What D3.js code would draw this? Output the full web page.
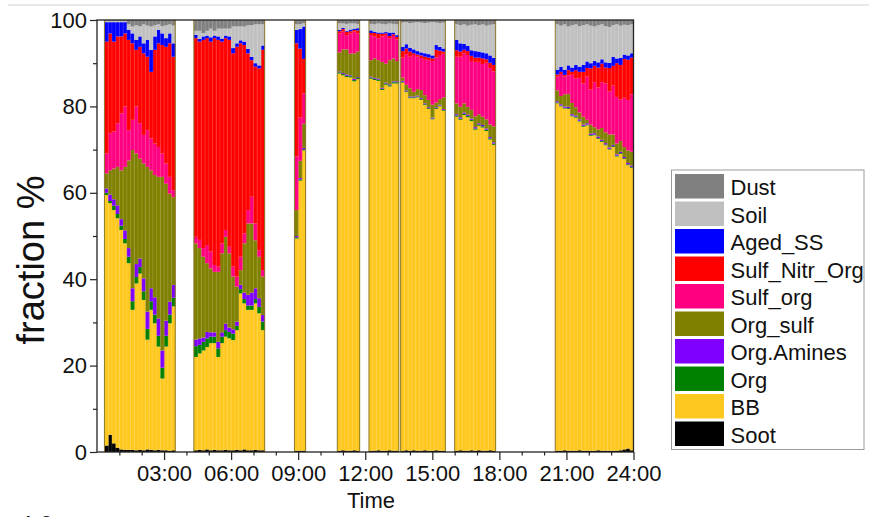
<!DOCTYPE html>
<html>
<head>
<meta charset="utf-8">
<script src="https://cdn.jsdelivr.net/npm/d3@7"></script>
<style>
  body { margin: 0; background: #fff; }
  svg { display: block; font-family: Arial, "Liberation Sans", sans-serif; }
</style>
</head>
<body>
<svg id="chart" width="869" height="517"></svg>
<script>
// Start time of each 10-minute sample (HH:MM)
const times = [
  "00:20","00:30","00:40","00:50","01:00","01:10","01:20","01:30","01:40","01:50","02:00","02:10","02:20","02:30","02:40","02:50","03:00","03:10","03:20",
  "04:20","04:30","04:40","04:50","05:00","05:10","05:20","05:30","05:40","05:50","06:00","06:10","06:20","06:30","06:40","06:50","07:00","07:10","07:20",
  "08:50","09:00","09:10",
  "10:45","10:55","11:05","11:15","11:25","11:35",
  "12:10","12:20","12:30","12:40","12:50","13:00","13:10","13:20",
  "13:35","13:45","13:55","14:05","14:15","14:25","14:35","14:45","14:55","15:05","15:15","15:25",
  "16:00","16:10","16:20","16:30","16:40","16:50","17:00","17:10","17:20","17:30","17:40",
  "20:30","20:40","20:50","21:00","21:10","21:20","21:30","21:40","21:50","22:00","22:10","22:20","22:30","22:40","22:50","23:00","23:10","23:20","23:30","23:40","23:50"
];
const sampleMinutes = 10;

// Particle-type fractions (%) per sample
const soot = [
  1.5,4.0,2.0,1.0,0.6,0.5,0.5,0.5,0.4,0.5,0.4,0.6,0.5,0.4,0.5,0.4,0.4,0.3,0.4,
  0.4,0.5,0.4,0.6,0.4,0.5,0.4,0.4,0.5,0.4,0.4,0.5,0.4,0.6,0.4,0.4,0.5,0.4,0.4,
  0.3,0.3,0.3,
  0.3,0.4,0.3,0.3,0.4,0.3,
  0.3,0.3,0.4,0.3,0.3,0.4,0.3,0.3,
  0.3,0.4,0.3,0.4,0.3,0.3,0.4,0.3,0.3,0.4,0.3,0.3,
  0.3,0.4,0.3,0.3,0.4,0.3,0.4,0.3,0.3,0.4,0.3,
  0.3,0.3,0.4,0.3,0.3,0.3,0.4,0.3,0.3,0.3,0.3,0.4,0.3,0.3,0.3,0.3,0.3,0.4,0.6,0.8,0.4
];
const bb = [
  58.0,53.6,54.0,53.1,50.8,47.8,43.2,32.4,38.6,40.8,34.8,25.4,32.4,29.4,23.9,16.6,24.0,29.5,33.3,
  21.6,22.3,23.1,23.7,24.8,24.7,21.6,24.8,26.2,25.9,25.5,27.7,36.3,33.8,32.5,32.5,33.9,31.7,27.8,
  49.1,62.5,69.5,
  87.3,86.8,86.5,86.4,85.4,86.0,
  86.1,85.8,85.5,83.5,84.7,84.2,85.0,85.0,
  85.2,82.9,81.6,81.5,81.8,81.2,79.9,79.1,76.7,79.0,79.7,78.7,
  77.3,76.5,77.7,77.2,76.2,74.3,75.1,74.8,74.0,71.9,70.8,
  80.4,79.7,79.1,79.1,77.4,77.1,76.1,75.0,75.3,72.9,73.0,72.1,71.5,70.7,69.7,70.3,68.1,68.6,67.2,65.6,65.4
];
const org = [
  0.5,0.5,1,1,1,1,1.5,2,1.5,1.5,2,2.5,2,2,2.5,2.5,2.5,2,2,
  2.5,2,2,2,1.5,1.5,2,1.5,1.5,1.5,1.5,1,1,1,1,1,1,1.5,2,
  0.3,0.3,0.3,
  0.3,0.3,0.3,0.3,0.3,0.3,
  0.3,0.3,0.3,0.3,0.3,0.3,0.3,0.3,
  0.2,0.2,0.2,0.2,0.2,0.2,0.2,0.2,0.2,0.2,0.2,0.2,
  0.3,0.3,0.3,0.3,0.3,0.3,0.3,0.3,0.3,0.3,0.3,
  0.2,0.2,0.2,0.2,0.2,0.2,0.2,0.2,0.2,0.2,0.2,0.2,0.2,0.2,0.2,0.2,0.2,0.2,0.2,0.2,0.2
];
const orgAmines = [
  1,1.5,1.5,2,1.5,2,2,3,3,2,3,4,3,4,4,4,3.5,3,3,
  1.5,1.5,1,1.5,1,1,1.5,1,1.5,1,1,1,1,1.5,2.5,3,2.5,2,1.5,
  0.3,0.3,0.3,
  0.2,0.2,0.3,0.2,0.3,0.2,
  0.2,0.2,0.2,0.2,0.2,0.2,0.2,0.2,
  0.2,0.2,0.2,0.2,0.2,0.2,0.2,0.2,0.2,0.2,0.2,0.2,
  0.3,0.3,0.3,0.3,0.3,0.3,0.3,0.3,0.3,0.3,0.3,
  0.3,0.3,0.3,0.3,0.3,0.3,0.3,0.3,0.3,0.3,0.3,0.3,0.3,0.3,0.3,0.3,0.3,0.3,0.3,0.3,0.3
];
const orgSulf = [
  3.5,5.6,7.1,8.9,11.3,14.7,20.3,32.0,25.6,23.1,26.6,33.5,27.3,28.3,32.8,40.2,31.7,25.0,20.3,
  22.3,20.9,18.7,15.9,14.8,14.0,16.2,18.3,20.1,17.2,12.2,8.1,3.4,11.4,16.5,16.0,11.1,9.6,8.9,
  6.0,4.0,5.6,
  4.4,5.5,5.8,5.0,5.9,5.9,
  3.8,4.5,4.3,6.0,4.4,5.6,5.3,4.7,
  0.8,1.3,1.9,1.1,1.5,1.9,1.9,1.7,3.0,1.1,1.3,2.7,
  2.5,2.4,2.1,1.8,2.0,2.5,2.1,1.9,2.1,2.9,3.7,
  2.5,1.9,2.8,3.0,2.6,1.9,1.6,1.8,0.8,2.1,1.4,1.7,2.7,2.5,3.0,2.4,2.5,2.5,2.3,2.9,3.2
];
const sulfOrg = [
  4.6,8.6,8.6,10.1,13.2,14.0,7.0,7.0,10.9,8.2,6.6,8.5,7.4,7.3,6.9,5.4,4.7,3.9,1.6,
  1.5,1.9,2.0,4.2,3.9,1.6,1.2,2.3,1.6,1.5,2.3,2.3,3.1,2.3,3.1,6.2,3.9,1.5,1.5,
  12.4,10.0,7.0,
  4.4,4.1,3.3,4.7,5.0,4.2,
  5.8,5.1,5.1,5.9,6.6,5.1,5.2,5.0,
  4.6,7.1,7.3,8.5,7.5,7.4,8.2,9.2,10.1,10.4,10.2,10.1,
  10.8,11.6,11.6,12.0,11.3,12.6,12.1,12.2,13.1,13.1,12.7,
  3.2,5.1,4.1,4.3,6.5,6.7,8.0,7.7,10.0,8.1,10.4,9.7,10.6,11.3,10.0,11.3,10.8,9.6,11.4,11.7,13.3
];
const sulfNitrOrg = [
  25.9,23.1,20.8,20.1,17.8,16.9,20.9,17.7,13.1,17.7,18.9,17.0,15.4,21.7,24.0,25.1,27.0,30.9,30.9,
  46.0,45.9,48.2,47.9,48.6,52.5,52.5,46.7,44.4,47.9,49.4,53.2,49.4,43.6,36.3,31.6,36.3,42.1,51.0,
  26.2,16.0,8.0,
  0.5,0.6,0.8,0.5,0.4,0.7,
  0.5,0.8,1.0,0.6,0.4,0.5,0.4,0.6,
  1.5,1.3,1.2,0.4,0.5,0.6,0.7,0.6,0.6,1.8,1.0,0.5,
  1.5,1.2,0.8,0.9,1.2,1.0,1.0,1.3,0.8,1.2,1.5,
  0.5,0.5,0.4,1.2,0.7,1.9,1.4,2.7,2.0,4.9,3.8,4.6,4.3,3.7,5.4,4.6,7.8,8.0,9.0,9.3,8.5
];
const agedSS = [
  4.5,2.6,4.5,3.3,3.3,2.6,2.3,2.3,2.3,2.4,2.3,3.9,5.1,3.1,3.1,2.7,2.0,2.3,3.1,
  0.8,0.6,0.8,0.6,1.0,0.6,0.8,0.7,0.6,0.8,1.2,0.8,0.7,0.8,1.0,0.8,0.8,0.7,1.0,
  3.1,4.5,7.5,
  0.3,0.3,0.2,0.4,0.3,0.5,
  0.6,0.3,0.3,0.3,0.3,0.8,0.4,0.4,
  1.0,1.0,0.9,0.9,0.8,0.7,0.8,0.8,0.7,1.1,0.9,0.7,
  2.4,1.9,1.4,1.2,1.3,1.5,1.4,1.4,1.4,1.7,1.6,
  1.1,1.2,1.2,1.1,1.0,1.2,1.2,1.6,1.5,1.2,1.1,1.2,1.0,1.2,1.2,2.1,1.1,1.6,1.0,1.0,1.0
];
const soil = [
  0.3,0.3,0.3,0.3,0.3,0.3,1.3,1.6,3.4,2.4,4.4,3.3,5.4,2.6,1.3,1.7,3.0,2.1,4.1,
  0.9,1.9,0.8,1.1,2.0,1.1,1.8,2.3,1.6,1.8,5.0,3.9,3.2,3.5,5.5,7.3,9.0,9.5,4.9,
  1.3,1.1,0.8,
  1.5,1.0,1.6,1.4,1.2,1.0,
  1.5,1.7,2.1,2.0,1.8,2.1,2.0,2.5,
  5.6,5.1,5.7,6.2,6.7,6.9,7.0,7.3,7.7,5.2,5.5,6.0,
  3.6,4.2,4.5,4.7,5.9,6.2,6.1,6.5,6.4,7.1,7.8,
  10.5,9.5,10.5,9.0,9.8,9.4,9.4,9.2,8.6,8.7,8.0,8.6,8.1,8.4,8.3,7.3,7.9,7.5,6.9,7.0,6.7
];
const dust = [
  0.2,0.2,0.2,0.2,0.2,0.2,1.0,1.5,1.2,1.4,1.0,1.3,1.5,1.2,1.0,1.4,1.2,1.0,1.3,
  2.5,2.5,3,2.5,2,2.5,2,2,2,2,1.5,1.5,1.5,1.5,1.2,1.2,1,1,1,
  1.0,1.0,0.7,
  0.8,0.8,0.9,0.8,0.8,0.9,
  0.9,1.0,0.8,0.9,1.0,0.8,0.9,1.0,
  0.6,0.5,0.7,0.6,0.5,0.6,0.7,0.6,0.5,0.6,0.7,0.6,
  1.0,1.2,1.0,1.3,1.1,1.0,1.2,1.0,1.3,1.1,1.0,
  1.0,1.3,1.0,1.5,1.2,1.0,1.4,1.2,1.0,1.3,1.5,1.2,1.0,1.4,1.6,1.2,1.0,1.3,1.1,1.2,1.0
];

// Stacking order, bottom to top
const species = ["Soot","BB","Org","Org.Amines","Org_sulf","Sulf_org","Sulf_Nitr_Org","Aged_SS","Soil","Dust"];
const seriesValues = [soot, bb, org, orgAmines, orgSulf, sulfOrg, sulfNitrOrg, agedSS, soil, dust];
const speciesColors = ["#000000","#FFC81E","#008000","#8000FF","#808000","#FF0080","#FF0000","#0000FF","#C0C0C0","#808080"];

const xTickHours = [3, 6, 9, 12, 15, 18, 21, 24];
const xTickLabels = ["03:00","06:00","09:00","12:00","15:00","18:00","21:00","24:00"];
const yTicks = [0, 20, 40, 60, 80, 100];
const yMinorTicks = [10, 30, 50, 70, 90];

const toMinutes = s => { const [h, m] = s.split(":").map(Number); return h * 60 + m; };

const rows = times.map((t, i) => {
  const r = { t: toMinutes(t) };
  species.forEach((s, k) => { r[s] = seriesValues[k][i]; });
  return r;
});

// Group consecutive samples into measurement periods
const blocks = [];
rows.forEach((r, i) => {
  if (i === 0 || r.t - rows[i - 1].t !== sampleMinutes) blocks.push({ start: r.t, end: r.t + sampleMinutes });
  else blocks[blocks.length - 1].end = r.t + sampleMinutes;
});

const svg = d3.select("#chart");
const margin = { left: 97, right: 633.5, top: 20, bottom: 452 };
const x = d3.scaleLinear().domain([0, 24 * 60]).range([margin.left, margin.right]);
const y = d3.scaleLinear().domain([0, 100]).range([margin.bottom, margin.top]);
const color = d3.scaleOrdinal().domain(species).range(speciesColors);

// faint rule along the very top
svg.append("line").attr("x1", 8).attr("x2", 869).attr("y1", 5).attr("y2", 5)
  .attr("stroke", "#e8e8e8").attr("stroke-width", 2);

const stacked = d3.stack().keys(species)(rows);

const plot = svg.append("g");
plot.selectAll("g.layer").data(stacked).join("g")
  .attr("class", "layer")
  .attr("fill", d => color(d.key))
  .selectAll("rect").data(d => d).join("rect")
    .attr("x", d => x(d.data.t))
    .attr("width", d => x(d.data.t + sampleMinutes) - x(d.data.t) + 0.35)
    .attr("y", d => y(d[1]))
    .attr("height", d => Math.max(0, y(d[0]) - y(d[1])));

// light seams between neighbouring columns
plot.selectAll("line.seam").data(rows.filter((r, i) => i > 0 && r.t - rows[i - 1].t === sampleMinutes))
  .join("line").attr("class", "seam")
  .attr("x1", d => x(d.t)).attr("x2", d => x(d.t))
  .attr("y1", y(0)).attr("y2", y(100))
  .attr("stroke", "#fff").attr("stroke-opacity", 0.22).attr("stroke-width", 0.7);

// column-group outlines
plot.selectAll("line.edge").data(blocks.flatMap(b => [b.start, b.end]))
  .join("line").attr("class", "edge")
  .attr("x1", d => x(d)).attr("x2", d => x(d))
  .attr("y1", y(0)).attr("y2", y(100))
  .attr("stroke", "#8c7a2e").attr("stroke-width", 1);

// frame
svg.append("rect").attr("x", margin.left).attr("y", margin.top)
  .attr("width", margin.right - margin.left).attr("height", margin.bottom - margin.top)
  .attr("fill", "none").attr("stroke", "#222").attr("stroke-width", 1.3);

const fontSize = 22;

// x axis
const xAxis = svg.append("g").attr("transform", `translate(0,${margin.bottom})`)
  .call(d3.axisBottom(x).tickValues(xTickHours.map(h => h * 60)).tickSize(8).tickPadding(5)
    .tickFormat((d, i) => xTickLabels[i]));
const xMinor = svg.append("g").attr("transform", `translate(0,${margin.bottom})`)
  .call(d3.axisBottom(x).tickValues(d3.range(1, 24).filter(h => h % 3 !== 0).map(h => h * 60)).tickSize(3.5).tickFormat(""));

// y axis
const yAxis = svg.append("g").attr("transform", `translate(${margin.left},0)`)
  .call(d3.axisLeft(y).tickValues(yTicks).tickSize(7).tickPadding(3));
const yMinor = svg.append("g").attr("transform", `translate(${margin.left},0)`)
  .call(d3.axisLeft(y).tickValues(yMinorTicks).tickSize(4).tickFormat(""));

[xAxis, xMinor, yAxis, yMinor].forEach(g => {
  g.select(".domain").remove();
  g.selectAll(".tick line").attr("stroke", "#222").attr("stroke-width", 1.2);
  g.selectAll(".tick text").attr("font-size", fontSize).attr("fill", "#111")
    .attr("font-family", "Arial, 'Liberation Sans', sans-serif");
});

svg.append("text").attr("x", 371).attr("y", 508).attr("text-anchor", "middle")
  .attr("font-size", fontSize).attr("fill", "#111").text("Time");

svg.append("text").attr("transform", "translate(44,260) rotate(-90)")
  .attr("text-anchor", "middle").attr("font-size", 38).attr("fill", "#111").text("fraction %");

// partial label of the panel below
svg.append("text").attr("x", 22).attr("y", 531).attr("font-size", fontSize).attr("fill", "#111").text("1.0");

// legend
const legend = svg.append("g");
legend.append("rect").attr("x", 671.5).attr("y", 170).attr("width", 192.5).attr("height", 279.5)
  .attr("fill", "#fff").attr("stroke", "#9a9a9a").attr("stroke-width", 1);
const legendItems = species.slice().reverse();
const li = legend.selectAll("g.item").data(legendItems).join("g").attr("class", "item")
  .attr("transform", (d, i) => `translate(675,${174 + i * 27.5})`);
li.append("rect").attr("width", 49).attr("height", 24.5).attr("fill", d => color(d));
li.append("text").attr("x", 55.5).attr("y", 21).attr("font-size", fontSize).attr("fill", "#111").text(d => d);
</script>
</body>
</html>
